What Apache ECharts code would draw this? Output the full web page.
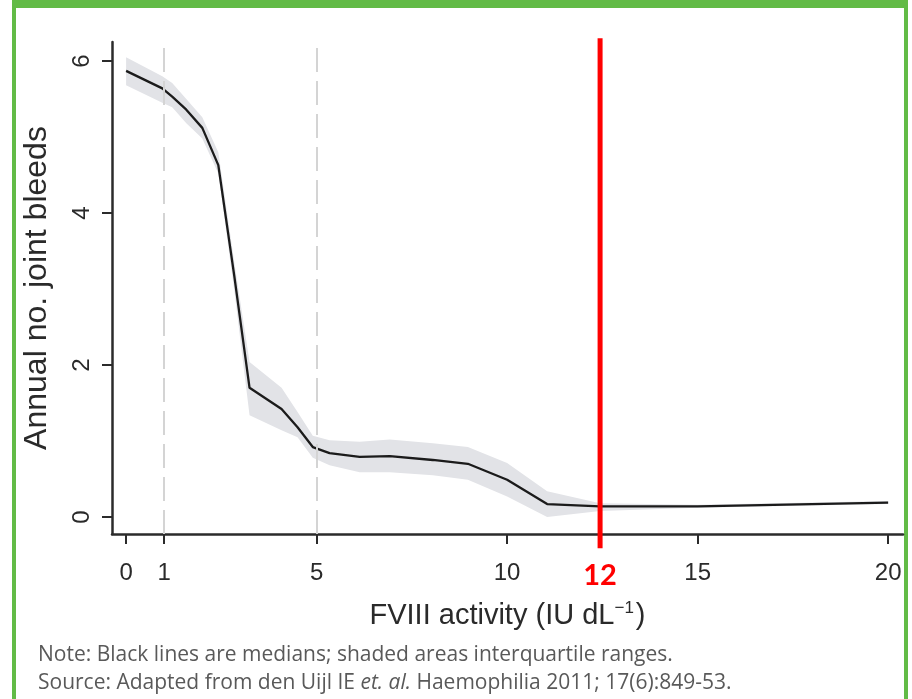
<!DOCTYPE html>
<html>
<head>
<meta charset="utf-8">
<script src="https://cdn.jsdelivr.net/npm/echarts@6/dist/echarts.min.js"></script>
<style>
html,body{margin:0;padding:0;background:#ffffff;}
#wrap{position:relative;width:912px;height:699px;overflow:hidden;background:#fff;}
#frame{position:absolute;left:12px;top:0;width:896px;height:699px;box-sizing:border-box;border-top:8px solid #62bb46;border-left:4px solid #62bb46;border-right:4px solid #62bb46;}
#chart{position:absolute;left:0;top:0;width:912px;height:699px;}
</style>
</head>
<body>
<div id="wrap"><div id="frame"></div><div id="chart"></div></div>
<script>
// ---- data ----
const fviiiActivity = [0, 0.95, 1.21, 1.58, 2.0, 2.42, 2.84, 3.24, 4.08, 4.5, 4.9, 5.34, 6.13, 6.92, 8.05, 8.97, 10.0, 11.05, 12.44, 15, 20];
const medianBleeds  = [5.87, 5.64, 5.53, 5.36, 5.12, 4.63, 3.17, 1.70, 1.42, 1.18, 0.92, 0.84, 0.79, 0.80, 0.75, 0.70, 0.49, 0.17, 0.14, 0.14, 0.19];
const upperQuartile = [6.05, 5.80, 5.71, 5.50, 5.26, 4.80, 3.35, 2.04, 1.70, 1.38, 1.07, 1.01, 0.99, 1.02, 0.97, 0.92, 0.71, 0.34, 0.18, 0.16, 0.21];
const lowerQuartile = [5.68, 5.45, 5.39, 5.18, 4.98, 4.52, 2.98, 1.34, 1.14, 1.05, 0.78, 0.68, 0.59, 0.59, 0.55, 0.49, 0.27, 0.00, 0.08, 0.12, 0.17];

const xTickValues = [0, 1, 5, 10, 15, 20];
const yTickValues = [0, 2, 4, 6];
const dashedRefX = [1, 5];
const thresholdX = 12.44;       // position of the red marker as drawn
const thresholdLabel = '12';
const thresholdSpan = [6.30, -0.41];

const xTitle = 'FVIII activity (IU dL';
const xTitleSup = '\u22121';
const yTitle = 'Annual no. joint bleeds';
const noteLine = 'Note: Black lines are medians; shaded areas interquartile ranges.';
const sourcePre = 'Source: Adapted from den Uijl IE ';
const sourceItalic = 'et. al.';
const sourcePost = ' Haemophilia 2011; 17(6):849-53.';

// ---- chart ----
const chart = echarts.init(document.getElementById('chart'), null, {renderer: 'canvas'});
const axisColor = '#2b2b2b';
const textColor = '#2a2a2a';
const medianData = fviiiActivity.map((x, i) => [x, medianBleeds[i]]);
const bandData = fviiiActivity.map((x, i) => [x, lowerQuartile[i], upperQuartile[i]]);

const option = {
  animation: false,
  backgroundColor: 'transparent',
  grid: {left: 112, right: 9, top: 42, bottom: 165, outerBoundsMode: 'none', containLabel: false},
  xAxis: {
    type: 'value', min: -0.37, max: 20.39,
    splitLine: {show: false},
    axisLine: {show: true, onZero: false, lineStyle: {color: axisColor, width: 2.5}},
    axisTick: {show: true, customValues: xTickValues, length: 10, lineStyle: {color: axisColor, width: 2}},
    axisLabel: {
      customValues: xTickValues.concat([thresholdX]),
      fontSize: 24, color: textColor, fontFamily: 'Liberation Sans', margin: 27,
      formatter: function (v) { return Math.abs(v - thresholdX) < 1e-6 ? '{red|' + thresholdLabel + '}' : String(v); },
      rich: {red: {color: '#ff0000', fontWeight: 'bold', fontSize: 29, fontFamily: 'Lato'}}
    },
    name: xTitle + '{sup|' + xTitleSup + '})',
    nameLocation: 'middle', nameGap: 66,
    nameTextStyle: {
      fontSize: 29, color: textColor, fontFamily: 'Liberation Sans',
      rich: {sup: {fontSize: 17, color: textColor, fontFamily: 'Liberation Sans', verticalAlign: 'top', padding: [0, 2, 14, 0]}}
    }
  },
  yAxis: {
    type: 'value', min: -0.224, max: 6.25,
    splitLine: {show: false},
    axisLine: {show: true, onZero: false, lineStyle: {color: axisColor, width: 2.5}},
    axisTick: {show: true, customValues: yTickValues, length: 10, lineStyle: {color: axisColor, width: 2}},
    axisLabel: {customValues: yTickValues, rotate: 90, fontSize: 24, color: textColor, fontFamily: 'Liberation Sans', margin: 18},
    name: yTitle, nameLocation: 'middle', nameRotate: 90, nameGap: 59,
    nameTextStyle: {fontSize: 32, color: textColor, fontFamily: 'Liberation Sans'}
  },
  series: [
    {
      type: 'line', data: [], silent: true, z: 0,
      markLine: {
        silent: true, symbol: ['none', 'none'], label: {show: false},
        lineStyle: {color: '#d4d4d4', type: [24, 9], width: 2},
        data: dashedRefX.map(v => ({xAxis: v}))
      }
    },
    {
      type: 'custom', silent: true, z: 1, clip: false,
      data: bandData,
      renderItem: function (params, api) {
        if (params.dataIndex !== 0) return null;
        const pts = [];
        for (let i = 0; i < bandData.length; i++) pts.push(api.coord([bandData[i][0], bandData[i][2]]));
        for (let i = bandData.length - 1; i >= 0; i--) pts.push(api.coord([bandData[i][0], bandData[i][1]]));
        return {type: 'polygon', shape: {points: pts}, style: {fill: '#e2e3e7', stroke: null}};
      }
    },
    {
      type: 'line', data: medianData, symbol: 'none', silent: true, z: 3,
      lineStyle: {color: '#1b1b1b', width: 2.3}
    },
    {
      type: 'line', clip: false, symbol: 'none', silent: true, z: 5,
      data: thresholdSpan.map(y => [thresholdX, y]),
      lineStyle: {color: '#ff0000', width: 5}
    }
  ],
  graphic: [
    {type: 'text', left: 38, top: 645, silent: true,
     style: {text: noteLine, fill: '#595959', font: '21px "Open Sans"'}},
    {type: 'text', left: 38, top: 673, silent: true,
     style: {
       text: sourcePre + '{it|' + sourceItalic + '}' + sourcePost,
       fill: '#595959', font: '21px "Open Sans"',
       rich: {it: {fontStyle: 'italic', fill: '#595959', fontSize: 21, fontFamily: 'Open Sans'}}
     }}
  ]
};
chart.setOption(option);
</script>
</body>
</html>
